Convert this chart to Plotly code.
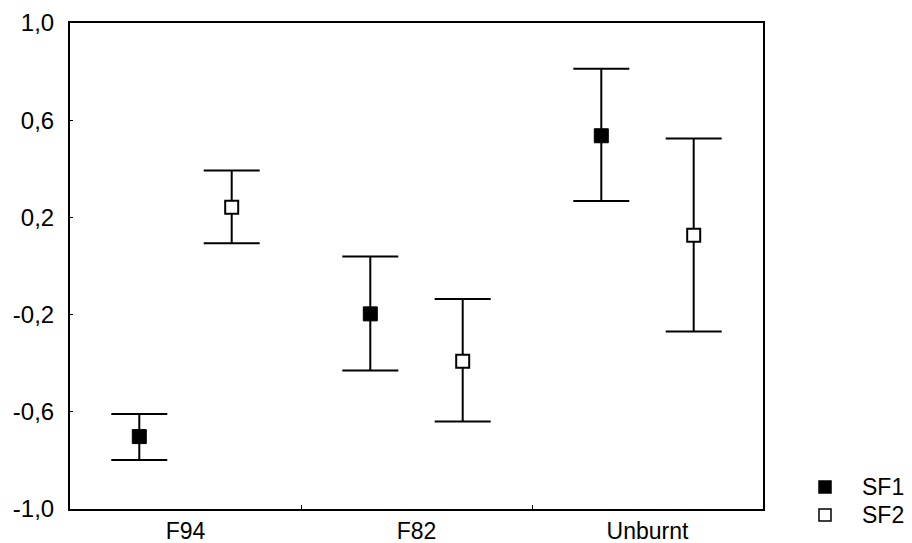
import plotly.graph_objects as go

categories = ["F94", "F82", "Unburnt"]
sf1_mean = [-0.702, -0.197, 0.536]
sf1_upper = [-0.609, 0.039, 0.812]
sf1_lower = [-0.798, -0.430, 0.268]
sf2_mean = [0.242, -0.392, 0.127]
sf2_upper = [0.393, -0.136, 0.525]
sf2_lower = [0.094, -0.640, -0.270]
y_ticks = [-1.0, -0.6, -0.2, 0.2, 0.6, 1.0]
y_tick_labels = ["-1,0", "-0,6", "-0,2", "0,2", "0,6", "1,0"]
series_names = ["SF1", "SF2"]

FONT = "Liberation Sans, Arial, sans-serif"
FS = 24
FS_X = 23
FS_LEG = 23

# the page body has an 8px margin, so the figure is drawn 8px in from the
# window's top-left corner; size it to fill the 912x543 window exactly
OFF = 8
W, H = 912 - OFF, 543 - OFF
# plot area in window pixels: x 70..763, y 23..509
ML, MR, MT, MB = 70 - OFF, 912 - 763, 23 - OFF, 543 - 509
PW, PH = W - ML - MR, H - MT - MB

def px(p):  # window pixel -> paper x
    return (p - OFF - ML) / PW

def py(p):  # window pixel -> paper y
    return (H - MB - (p - OFF)) / PH

x1 = [i for i in range(len(categories))]
x2 = [i + 0.4 for i in range(len(categories))]

def err(mean, up, lo):
    return dict(type="data", symmetric=False,
                array=[u - m for u, m in zip(up, mean)],
                arrayminus=[m - l for m, l in zip(mean, lo)],
                color="black", thickness=2, width=28)

fig = go.Figure()
fig.add_trace(go.Scatter(x=x1, y=sf1_mean, mode="markers", name=series_names[0],
                         marker=dict(symbol="square", size=14, color="black",
                                     line=dict(color="black", width=1)),
                         error_y=err(sf1_mean, sf1_upper, sf1_lower)))
fig.add_trace(go.Scatter(x=x2, y=sf2_mean, mode="markers", name=series_names[1],
                         marker=dict(symbol="square", size=13, color="white",
                                     line=dict(color="black", width=2)),
                         error_y=err(sf2_mean, sf2_upper, sf2_lower)))

# legend drawn as shapes + text
leg_rows = [487, 515]
leg_fill = ["black", "white"]
for name, yy, fc in zip(series_names, leg_rows, leg_fill):
    fig.add_shape(type="rect", xref="paper", yref="paper",
                  x0=px(819), x1=px(831), y0=py(yy + 6), y1=py(yy - 6),
                  fillcolor=fc, line=dict(color="black", width=1.5))
    fig.add_annotation(text=name, xref="paper", yref="paper",
                       x=px(860), y=py(yy), xanchor="left", yanchor="middle",
                       showarrow=False, font=dict(size=FS_LEG, family=FONT, color="black"))

fig.update_layout(
    width=W, height=H,
    margin=dict(l=ML, r=MR, t=MT, b=MB, autoexpand=False),
    paper_bgcolor="white", plot_bgcolor="white",
    font=dict(family=FONT, size=FS, color="black"),
    showlegend=False,
    xaxis=dict(range=[-0.3, 2.7], showgrid=False, zeroline=False, automargin=False,
               showline=True, linecolor="black", linewidth=2, mirror=True,
               tickmode="array", tickvals=[0.2, 1.2, 2.2], ticktext=categories,
               tickfont=dict(size=FS_X),
               ticks="", ticklabelstandoff=0),
    yaxis=dict(range=[-1.0, 1.0], showgrid=False, zeroline=False, automargin=False,
               showline=True, linecolor="black", linewidth=2, mirror=True,
               tickmode="array", tickvals=y_ticks, ticktext=y_tick_labels,
               ticks="inside", ticklen=3, tickwidth=1, tickcolor="black",
               ticklabelstandoff=9),
)
fig.update_xaxes(minor=dict(tickmode="array", tickvals=[0.7, 1.7], ticks="inside",
                            ticklen=4, tickwidth=1, tickcolor="black"))

fig.write_html("out.html")
